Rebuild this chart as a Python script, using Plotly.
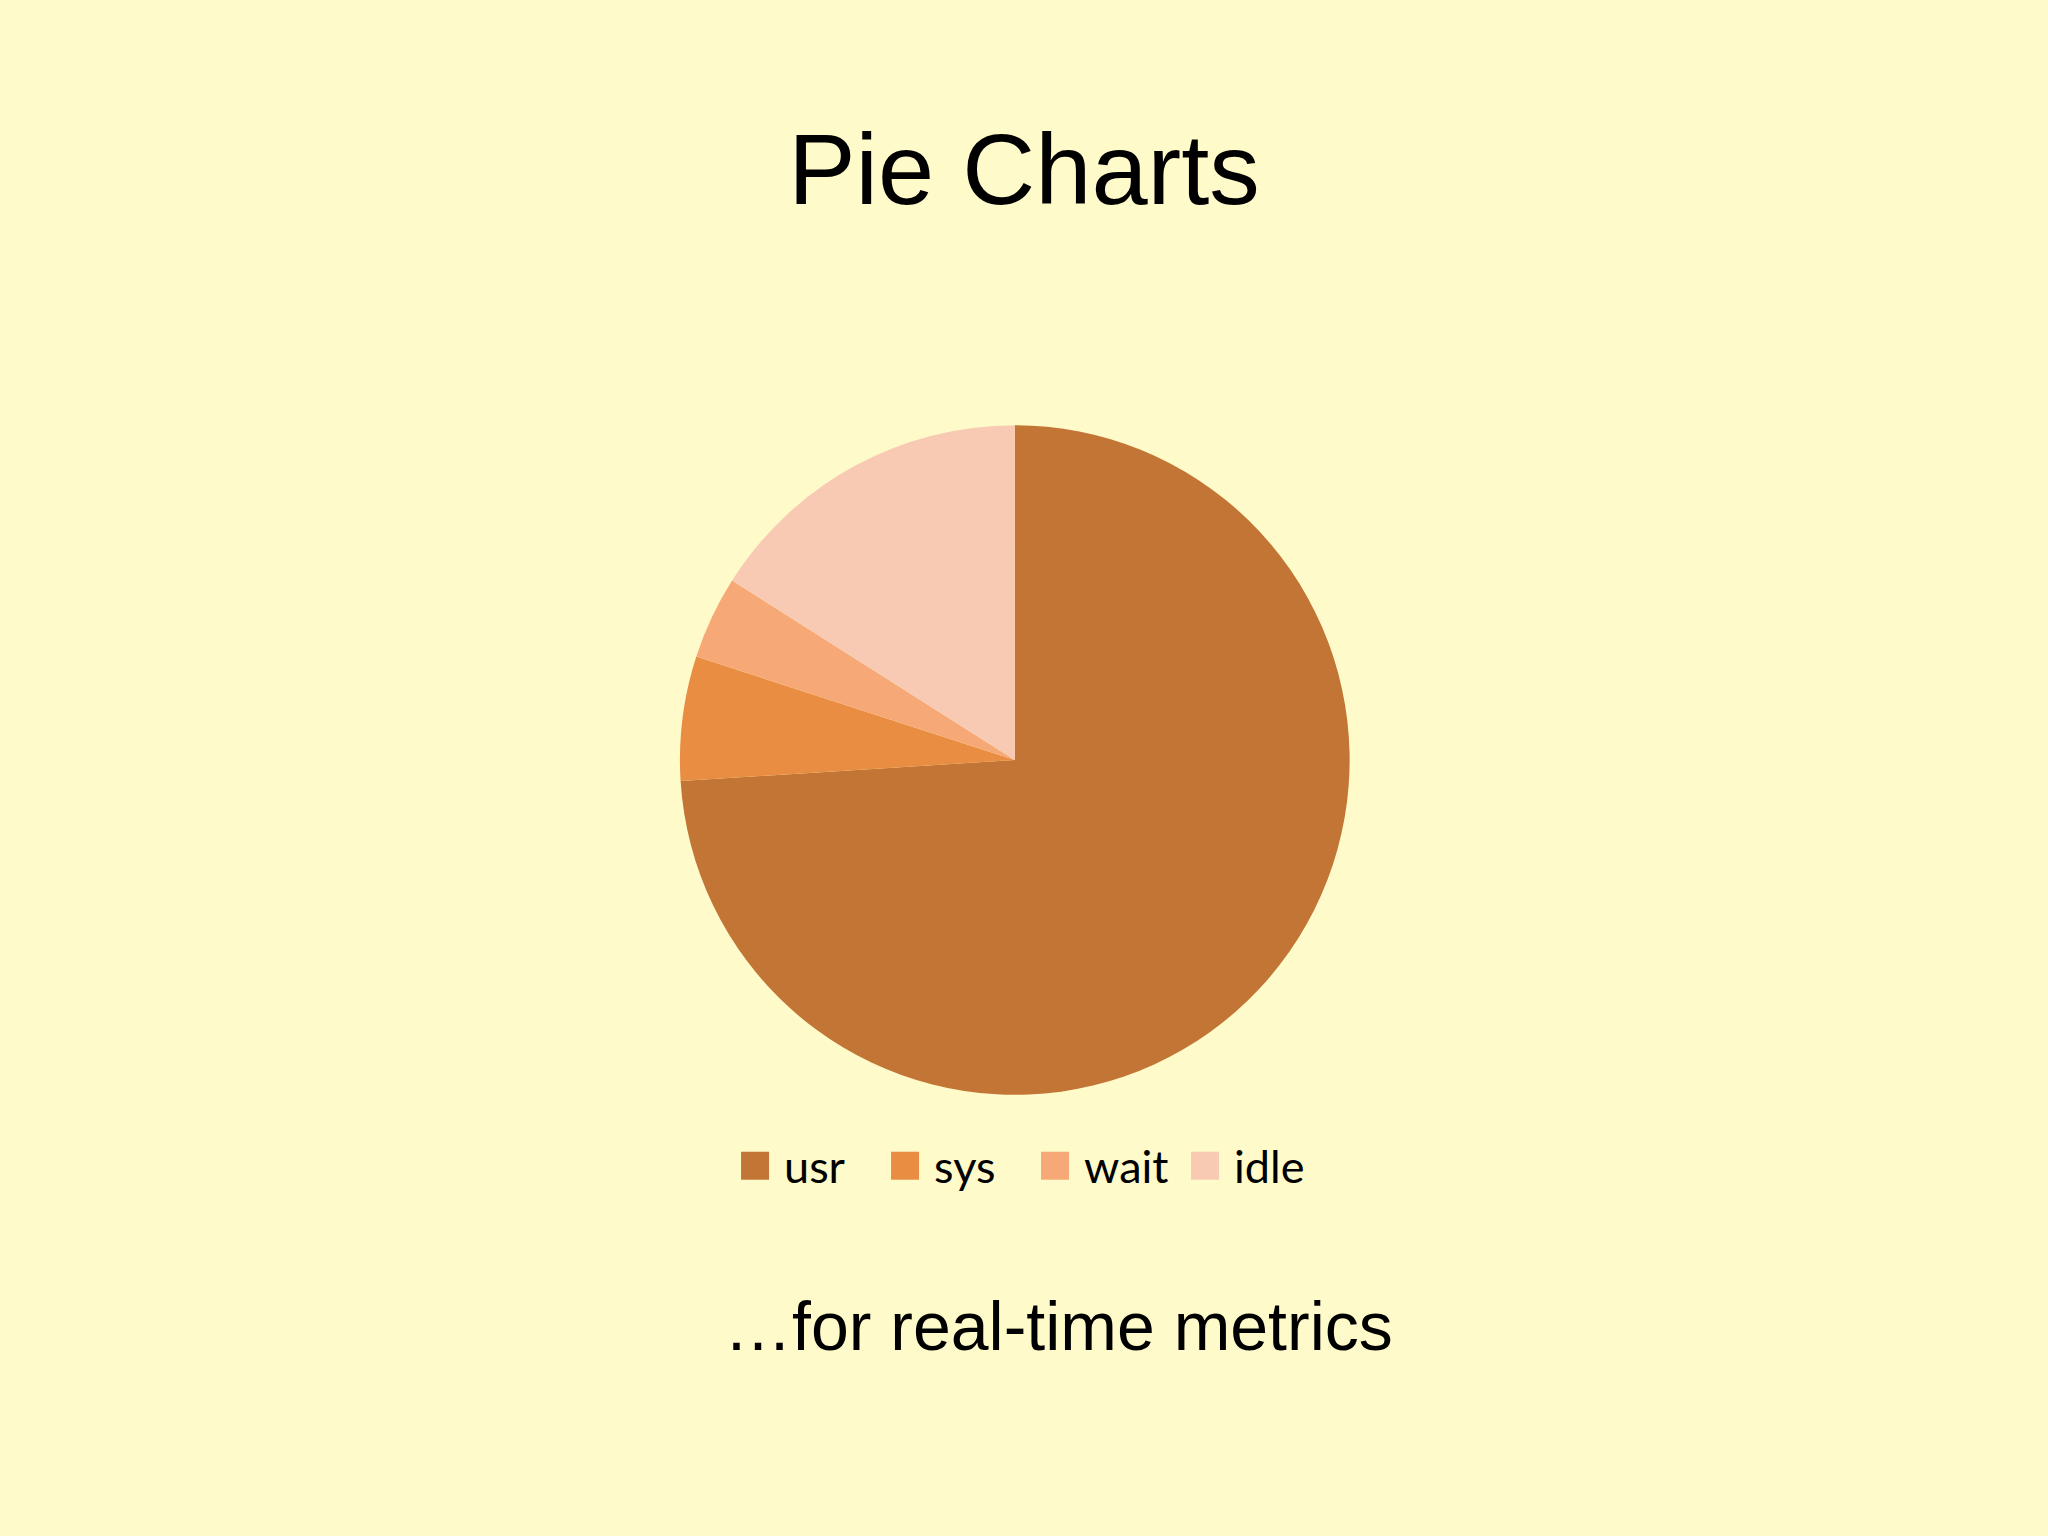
import plotly.graph_objs as go

labels = ['usr', 'sys', 'wait', 'idle']
values = [74, 6, 4, 16]
colors = ['#C27535', '#E88D42', '#F7A877', '#F9CAB3']

title = 'Pie Charts'
subtitle = '\u2026for real-time metrics'

trace = go.Pie(
    labels=labels,
    values=values,
    sort=False,
    direction='clockwise',
    rotation=0,
    textinfo='none',
    marker=dict(colors=colors, line=dict(width=0)),
    domain=dict(x=[0.332, 0.659], y=[0.2871, 0.7233]),
)

layout = go.Layout(
    width=2048,
    height=1536,
    margin=dict(l=0, r=0, t=0, b=0),
    paper_bgcolor='#FFFAC9',
    plot_bgcolor='#FFFAC9',
    title=dict(
        text=title,
        x=0.5,
        xanchor='center',
        y=0.8903,
        yanchor='middle',
        font=dict(family='Liberation Sans, Arial', size=101, color='#000000'),
    ),
    showlegend=True,
    legend=dict(
        orientation='h',
        x=0.501,
        xanchor='center',
        y=0.2409,
        yanchor='middle',
        itemwidth=48,
        entrywidth=87,
        entrywidthmode='pixels',
        bgcolor='rgba(0,0,0,0)',
        font=dict(family='Lato', size=45, color='#000000'),
    ),
    annotations=[
        dict(
            text=subtitle,
            x=0.517,
            y=0.1367,
            xref='paper',
            yref='paper',
            xanchor='center',
            yanchor='middle',
            showarrow=False,
            font=dict(family='Liberation Sans, Arial', size=68, color='#000000'),
        )
    ],
)

fig = go.Figure(data=[trace], layout=layout)

# no page margin, and bigger legend swatches like the office chart
page_js = """
document.body.style.margin = '0';
document.body.style.overflow = 'hidden';
document.querySelectorAll('path.legendpie').forEach(function(p) {
    p.setAttribute('d', 'M14,14H-14V-14H14Z');
});
"""

fig.write_html('out.html', post_script=page_js, config={'displayModeBar': False})
